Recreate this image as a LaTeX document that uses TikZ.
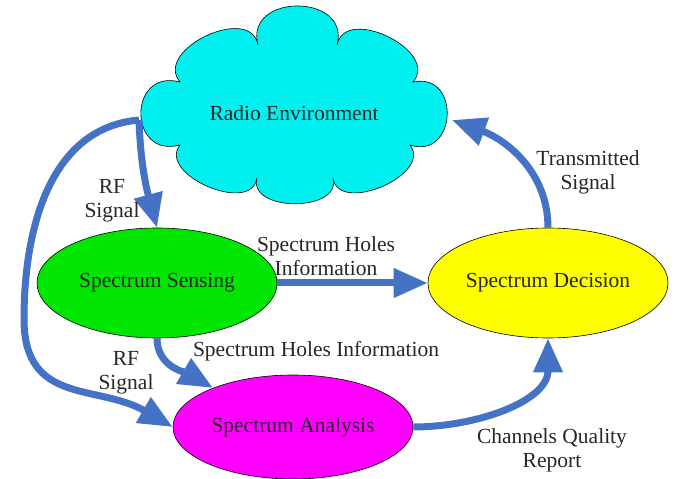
\documentclass[tikz,border=0pt]{standalone}
\usepackage{fontspec}
\setmainfont{Liberation Serif}
\usetikzlibrary{arrows.meta,shapes.geometric}
\definecolor{arrowblue}{RGB}{68,114,196}
\definecolor{cloudcyan}{RGB}{0,240,240}
\definecolor{sensegreen}{RGB}{0,230,0}
\definecolor{anamag}{RGB}{255,0,255}
\definecolor{decyellow}{RGB}{255,255,0}
\begin{document}
\begin{tikzpicture}[x=1pt,y=1pt,
  txt/.style={font=\fontsize{21.5}{24}\selectfont, text=black!85, align=center},
  blob/.style={ellipse, draw=black, line width=0.6pt, minimum width=240pt, minimum height=110pt, inner sep=0pt, txt},
  flow/.style={draw=arrowblue, line width=7pt, -{Triangle[length=34pt,width=28pt]}}]
\useasboundingbox (0,0) rectangle (675,479);
% cloud
\draw[fill=cloudcyan, line width=0.6pt]
  (180,397) to[out=130,in=100,looseness=1.25] (258,434)
  to[out=105,in=75,looseness=1.75] (337,434)
  to[out=79,in=49,looseness=1.25] (413,397)
  to[out=12,in=-18,looseness=2] (410,334)
  to[out=-52,in=-82,looseness=1.15] (333,301)
  to[out=285,in=255,looseness=1.2] (257,301)
  to[out=262,in=232,looseness=1.15] (180,334)
  to[out=195,in=165,looseness=2.2] (180,397) -- cycle;
\node[txt] (env) at (294,366) {Radio Environment};
\node[blob, fill=sensegreen] (sens) at (157,196) {Spectrum Sensing};
\node[blob, fill=decyellow] (dec) at (548,196) {Spectrum Decision};
\node[blob, fill=anamag, minimum height=104pt] (ana) at (293,52) {Spectrum Analysis};
\coordinate (cl) at (139,359);
\coordinate (cr) at (452,359);
\coordinate (bend) at (24,160);
% arrows
\draw[flow] (cl) to[out=-88,in=105] (sens.north);
\draw[flow] (cl) to[out=185,in=90] (bend) to[out=-90,in=150,looseness=1.2] (ana.west);
\draw[flow] (sens.east) -- (dec.west);
\draw[flow] (sens.south) to[out=-90,in=150] (ana.154);
\draw[flow] (ana.east) to[out=0,in=-90] (dec.south);
\draw[flow] (dec.north) to[out=90,in=-20] (cr);
% labels
\node[txt] (rf1) at (112,278) {RF\\Signal};
\node[txt] (rf2) at (126,106) {RF\\Signal};
\node[txt] (shi1) at (326,223) {Spectrum Holes\\Information};
\node[txt] (shi2) at (316,128) {Spectrum Holes Information};
\node[txt] (cqr) at (552,29) {Channels Quality\\Report};
\node[txt] (ts) at (588,307) {Transmitted\\Signal};
\end{tikzpicture}
\end{document}
